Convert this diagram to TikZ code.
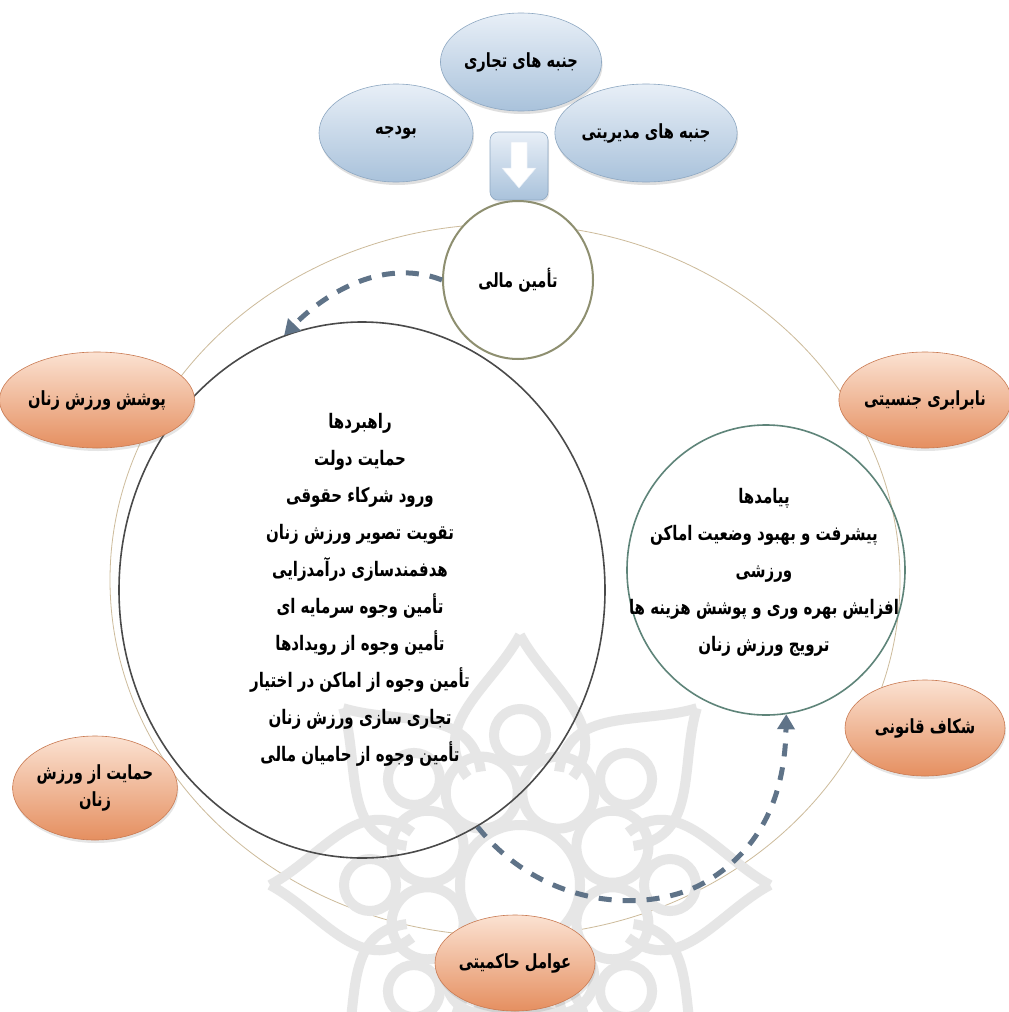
\documentclass[tikz,border=0pt]{standalone}
\usepackage{fontspec}
\usetikzlibrary{shapes.geometric,arrows.meta,shadows}
\newfontfamily\fa[Script=Arabic,FakeStretch=0.75]{DejaVu Sans}
\TeXXeTstate=1
\newcommand{\rtltext}[1]{\beginR#1\endR}
\definecolor{bluetop}{HTML}{E8EFF7}
\definecolor{bluebot}{HTML}{A9C2DB}
\definecolor{blueedge}{HTML}{8EA8C2}
\definecolor{orgtop}{HTML}{FBE2D2}
\definecolor{orgbot}{HTML}{E58F60}
\definecolor{orgedge}{HTML}{C97A52}
\definecolor{outercol}{HTML}{CDBB9B}
\definecolor{tamincol}{HTML}{8E8F70}
\definecolor{bigcol}{HTML}{4A4A4A}
\definecolor{rescol}{HTML}{5E8479}
\definecolor{dashcol}{HTML}{5F7388}
\definecolor{wmcol}{HTML}{E6E6E6}
\tikzset{
  txt/.style={font=\fa\bfseries\fontsize{19.5}{23}\selectfont, text=black},
  blueell/.style={ellipse, draw=blueedge, line width=0.6pt, top color=bluetop, bottom color=bluebot,
    minimum width=154, minimum height=98, inner sep=0pt, txt,
    drop shadow={opacity=0.25, shadow xshift=1pt, shadow yshift=-3pt}},
  orgell/.style={ellipse, draw=orgedge, line width=0.6pt, top color=orgtop, bottom color=orgbot,
    minimum width=160, minimum height=96, inner sep=0pt, txt, align=center,
    drop shadow={opacity=0.2, shadow xshift=1pt, shadow yshift=-3pt}},
  dasharrow/.style={draw=dashcol, line width=5pt, dash pattern=on 13pt off 11pt,
    -{Triangle[width=17pt,length=15pt]}},
  listtxt/.style={font=\fa\bfseries\fontsize{20}{37}\selectfont, align=center}
}
\begin{document}
\begin{tikzpicture}[x=1pt,y=-1pt]
\useasboundingbox (0,0) rectangle (1009,1012);
\fill[white] (0,0) rectangle (1009,1012);

% outer ring
\node[ellipse, draw=outercol, line width=0.8pt, minimum width=790, minimum height=712] (outer) at (505,580) {};

% watermark (faint journal logo)
\begin{scope}[shift={(520,885)}, draw=wmcol, line width=10pt]
  \foreach \a in {0,45,...,315}{
    \draw (\a-26:120) .. controls (\a-30:185) and (\a-8:200) .. (\a:250);
    \draw (\a+26:120) .. controls (\a+30:185) and (\a+8:200) .. (\a:250);
    \draw (\a+22.5:100) circle (36);
    \draw (\a:150) circle (26);
  }
  \draw (0,0) circle (60);
\end{scope}

% top blue ellipses
\node[blueell] (budje) at (396,133) {\rtltext{بودجه}};
\node[blueell] (modir) at (646,133) {\rtltext{جنبه های مدیریتی}};
\node[blueell] (tejari) at (521,62) {\rtltext{جنبه های تجاری}};

% arrow box
\node[rectangle, rounded corners=8pt, draw=blueedge, line width=0.6pt, top color=bluetop, bottom color=bluebot,
  minimum width=58, minimum height=68,
  drop shadow={opacity=0.2, shadow xshift=1pt, shadow yshift=-2pt}] (box) at (519,166) {};
\fill[white, draw=bluetop, line width=0.5pt] ([xshift=-8pt,yshift=24pt]box.center) -- ([xshift=8pt,yshift=24pt]box.center)
  -- ([xshift=8pt,yshift=-2pt]box.center) -- ([xshift=17pt,yshift=-2pt]box.center)
  -- ([yshift=-22pt]box.center) -- ([xshift=-17pt,yshift=-2pt]box.center)
  -- ([xshift=-8pt,yshift=-2pt]box.center) -- cycle;

% circles
\node[ellipse, draw=bigcol, line width=1.6pt, minimum width=486, minimum height=536] (big) at (362,590) {};
\node[ellipse, draw=rescol, line width=1.6pt, minimum width=278, minimum height=290] (res) at (766,570) {};
\node[ellipse, draw=tamincol, line width=2pt, fill=white, minimum width=150, minimum height=158, inner sep=0pt, txt] (tamin) at (518,280) {\rtltext{تأمین مالی}};

% list texts
\node[listtxt] (strat) at (360,590) {%
\rtltext{راهبردها}\\
\rtltext{حمایت دولت}\\
\rtltext{ورود شرکاء حقوقی}\\
\rtltext{تقویت تصویر ورزش زنان}\\
\rtltext{هدفمندسازی درآمدزایی}\\
\rtltext{تأمین وجوه سرمایه ای}\\
\rtltext{تأمین وجوه از رویدادها}\\
\rtltext{تأمین وجوه از اماکن در اختیار}\\
\rtltext{تجاری سازی ورزش زنان}\\
\rtltext{تأمین وجوه از حامیان مالی}};

\node[listtxt] (outc) at (764,572) {%
\rtltext{پیامدها}\\
\rtltext{پیشرفت و بهبود وضعیت اماکن}\\
\rtltext{ورزشی}\\
\rtltext{افزایش بهره وری و پوشش هزینه ها}\\
\rtltext{ترویج ورزش زنان}};

% orange ellipses
\node[orgell] (poo) at (97,400) {\rtltext{پوشش ورزش زنان}};
\node[orgell] (nab) at (925,400) {\rtltext{نابرابری جنسیتی}};
\node[orgell] (shk) at (925,728) {\rtltext{شکاف قانونی}};
\node[orgell, minimum height=104] (hem) at (95,788) {\rtltext{حمایت از ورزش}\\[4pt]\rtltext{زنان}};
\node[orgell] (avm) at (515,963) {\rtltext{عوامل حاکمیتی}};

% dashed arrows
\draw[dasharrow] (tamin.west) .. controls (380,256) and (320,298) .. (big.107);
\draw[dasharrow] (big.-64) .. controls (540,905) and (640,915) .. (700,885)
  .. controls (765,850) and (785,790) .. (res.-82);
\end{tikzpicture}
\end{document}
